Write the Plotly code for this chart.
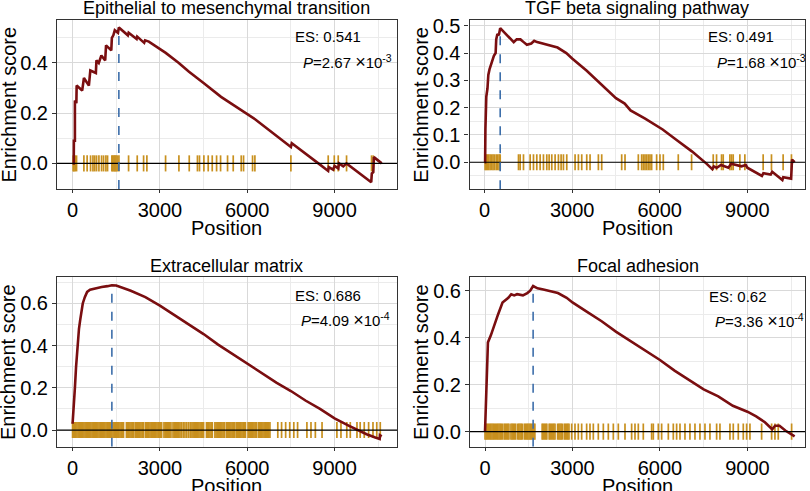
import plotly.graph_objects as go

# ---------------- data ----------------
titles = ["Epithelial to mesenchymal transition", "TGF beta signaling pathway",
          "Extracellular matrix", "Focal adhesion"]
es_labels = ["0.541", "0.491", "0.686", "0.62"]
p_mantissa = ["2.67", "1.68", "4.09", "3.36"]
p_exponent = ["-3", "-3", "-4", "-4"]

# running enrichment score curves (position, score)
emt_pos = [0, 40, 45, 80, 80, 130, 140, 330, 390, 560, 610, 800, 820, 900, 990, 1120, 1150, 1330,
           1350, 1400, 1450, 1560, 1590, 1900, 1925, 2200, 2220, 2460, 2490, 2620, 3200, 3650, 4000,
           4300, 4500, 5100, 5500, 5880, 6280, 7500, 7530, 8500, 8780, 8800, 8950, 9000, 9130, 9150,
           9300, 9410, 10260, 10280, 10330, 10350, 10620]
emt_es = [0.0, 0.0, 0.09, 0.09, 0.25, 0.24, 0.31, 0.29, 0.34, 0.31, 0.37, 0.36, 0.41, 0.40, 0.43, 0.41,
          0.47, 0.45, 0.50, 0.51, 0.53, 0.52, 0.541, 0.51, 0.52, 0.495, 0.505, 0.48, 0.49, 0.485, 0.44,
          0.40, 0.365, 0.34, 0.32, 0.265, 0.235, 0.205, 0.175, 0.065, 0.08, -0.005, -0.03, -0.015,
          -0.025, -0.01, -0.02, 0.0, -0.012, 0.0, -0.075, -0.04, -0.035, 0.025, 0.0]
emt_hits = [20, 50, 90, 137, 389, 500, 618, 700, 760, 824, 905, 996, 1065, 1145, 1202, 1351, 1380,
            1420, 1454, 1490, 1530, 1592, 1924, 2221, 2440, 2553, 3195, 3653, 4008, 4290, 4360, 4511,
            4660, 4798, 4947, 5084, 5324, 5519, 5794, 5874, 6183, 6263, 7500, 8782, 8990, 9126, 9412,
            10271, 10330]

tgf_pos = [0, 20, 30, 60, 100, 130, 170, 230, 270, 320, 380, 400, 440, 490, 536, 1000, 1100, 1230,
           1340, 1450, 1600, 1700, 1800, 2000, 2200, 2500, 2800, 3000, 3500, 4000, 4500, 4800, 5000,
           5500, 5900, 6100, 6600, 7100, 7600, 7800, 7850, 7950, 8100, 8350, 8450, 8600, 8800, 8950,
           9000, 9500, 9550, 9800, 9850, 10200, 10230, 10500, 10530, 10620]
tgf_es = [0.0, 0.0, 0.12, 0.24, 0.27, 0.32, 0.34, 0.36, 0.38, 0.39, 0.40, 0.45, 0.47, 0.465, 0.491,
          0.44, 0.45, 0.45, 0.44, 0.43, 0.435, 0.445, 0.44, 0.435, 0.43, 0.42, 0.40, 0.38, 0.335,
          0.285, 0.235, 0.215, 0.19, 0.16, 0.135, 0.12, 0.08, 0.04, -0.005, -0.025, -0.015, -0.02,
          -0.01, -0.02, -0.005, -0.01, -0.015, -0.01, -0.02, -0.05, -0.04, -0.045, -0.035, -0.065,
          -0.055, -0.06, 0.01, 0.0]
tgf_hits = [20, 60, 100, 140, 190, 240, 290, 340, 400, 450, 500, 536, 1163, 1220, 1334, 1562, 1676,
            1790, 1904, 2018, 2132, 2212, 2303, 2417, 2531, 2622, 2702, 2816, 3101, 3215, 3329, 3500,
            3614, 3899, 4013, 4697, 4811, 5267, 5381, 5438, 5495, 5552, 5609, 5666, 5723, 5894, 6008,
            6122, 6635, 7091, 7832, 7946, 8117, 8174, 8402, 8459, 8516, 8744, 8915, 9542, 9827,
            10226, 10511]

ecm_pos = [0, 40, 80, 120, 170, 220, 260, 300, 350, 420, 500, 600, 800, 1000, 1200, 1350, 1500,
           1700, 2000, 2500, 3000, 3500, 4000, 4500, 5000, 5500, 6000, 6500, 7000, 7500, 8000, 8500,
           9000, 9500, 9800, 10100, 10400, 10550, 10560, 10620]
ecm_es = [0.03, 0.10, 0.20, 0.30, 0.40, 0.48, 0.52, 0.56, 0.60, 0.63, 0.655, 0.665, 0.672, 0.678,
          0.682, 0.686, 0.685, 0.675, 0.66, 0.63, 0.59, 0.545, 0.50, 0.455, 0.405, 0.36, 0.315,
          0.27, 0.225, 0.185, 0.14, 0.10, 0.055, 0.02, 0.0, -0.02, -0.035, -0.042, -0.025, -0.03]
ecm_hits = [0, 30, 70, 110, 150, 190, 230, 270, 310, 350, 390, 430, 470, 510, 550, 590, 630, 670,
            710, 750, 790, 830, 870, 910, 950, 990, 1030, 1070, 1110, 1150, 1190, 1230, 1270, 1310,
            1350, 1390, 1430, 1470, 1510, 1550, 1590, 1630, 1670, 1710, 1750, 1850, 1890, 1930, 1970,
            2010, 2050, 2090, 2150, 2190, 2230, 2270, 2310, 2350, 2390, 2430, 2500, 2540, 2580, 2620,
            2660, 2700, 2740, 2780, 2820, 2860, 2900, 2940, 2980, 3020, 3060, 3140, 3180, 3220, 3260,
            3300, 3340, 3380, 3450, 3490, 3530, 3570, 3610, 3650, 3690, 3740, 3800, 3860, 3920, 3980,
            4040, 4100, 4140, 4180, 4220, 4260, 4300, 4340, 4380, 4420, 4460, 4500, 4600, 4640, 4680,
            4720, 4760, 4800, 4890, 4930, 4970, 5010, 5050, 5090, 5130, 5170, 5210, 5280, 5320, 5360,
            5400, 5440, 5480, 5520, 5560, 5620, 5660, 5700, 5740, 5780, 5820, 5860, 5900, 5940, 6030,
            6070, 6110, 6150, 6190, 6230, 6270, 6310, 6380, 6420, 6460, 6500, 6540, 6580, 6620, 6660,
            6700, 6740, 6780, 7050, 7180, 7320, 7460, 7600, 7730, 8050, 8190, 8340, 8570, 9080, 9220,
            9420, 9540, 9770, 9880, 10020, 10170, 10320, 10450, 10570]

fa_pos = [0, 30, 60, 100, 200, 300, 450, 600, 700, 800, 900, 1000, 1100, 1300, 1450, 1550, 1650,
          1800, 2000, 2300, 2500, 2800, 3000, 3500, 4000, 4500, 5000, 5500, 6000, 6500, 7000, 7500,
          8000, 8500, 9000, 9300, 9600, 9850, 9950, 10100, 10300, 10550, 10620]
fa_es = [0.0, 0.10, 0.25, 0.38, 0.41, 0.45, 0.50, 0.55, 0.56, 0.57, 0.585, 0.58, 0.585, 0.58, 0.59,
         0.60, 0.62, 0.61, 0.605, 0.595, 0.59, 0.57, 0.55, 0.51, 0.47, 0.425, 0.385, 0.345, 0.305,
         0.26, 0.22, 0.18, 0.15, 0.11, 0.085, 0.065, 0.04, 0.01, 0.025, 0.025, 0.005, -0.015, -0.02]
fa_hits = [0, 40, 80, 120, 160, 200, 240, 280, 320, 360, 400, 440, 480, 520, 560, 600, 660, 700, 740,
           780, 820, 890, 930, 970, 1010, 1050, 1120, 1160, 1200, 1240, 1280, 1350, 1390, 1430, 1470,
           1510, 1550, 1590, 1630, 1670, 1710, 1960, 2000, 2040, 2080, 2120, 2200, 2240, 2280, 2320,
           2360, 2400, 2490, 2530, 2570, 2610, 2650, 2720, 2760, 2800, 2840, 2880, 2972, 3086, 3200,
           3315, 3486, 3600, 3715, 3886, 4058, 4229, 4401, 4572, 4801, 5029, 5144, 5258, 5429, 5715,
           5772, 5944, 6058, 6287, 6458, 6572, 6687, 6858, 7029, 7201, 7372, 7544, 7715, 7944, 8058,
           8401, 8515, 8687, 8858, 8973, 9087, 9487, 9830, 9944, 10058, 10516]

x_ticks = [0, 3000, 6000, 9000]

# ---------------- layout / style ----------------
W, H = 810, 491
CURVE = "#7A0E10"
RUG = "#C8901E"
DASH = "#3C6EAA"
FONT = "Liberation Sans, Arial, sans-serif"

def px(x):
    return x / W

def py(y):
    return 1 - y / H

panels = [
    dict(pos=emt_pos, es=emt_es, hits=emt_hits, box=(57, 397, 20, 189), xr=[-535, 11145],
         yr=[-0.102, 0.571], dt=0.2, mdt=0.1, es_xy=(293, 37), p_xy=(301, 62), ylab_x=8, ty=8),
    dict(pos=tgf_pos, es=tgf_es, hits=tgf_hits, box=(469.5, 805, 20, 189.3), xr=[-515, 10975],
         yr=[-0.099, 0.521], dt=0.1, mdt=0.05, es_xy=(706, 37), p_xy=(715, 62), ylab_x=421, ty=8),
    dict(pos=ecm_pos, es=ecm_es, hits=ecm_hits, box=(57, 397, 277.3, 446.7), xr=[-535, 11145],
         yr=[-0.079, 0.724], dt=0.2, mdt=0.1, es_xy=(293, 295), p_xy=(299, 320), ylab_x=8, ty=266),
    dict(pos=fa_pos, es=fa_es, hits=fa_hits, box=(470, 805, 277.3, 446.7), xr=[-515, 10975],
         yr=[-0.064, 0.657], dt=0.2, mdt=0.1, es_xy=(707, 296), p_xy=(713, 321), ylab_x=421, ty=266),
]

fig = go.Figure()
layout = dict(width=W, height=H, margin=dict(l=0, r=0, t=0, b=0, autoexpand=False),
              paper_bgcolor="white", plot_bgcolor="white", showlegend=False,
              font=dict(family=FONT, color="black"))
annotations = []
shapes = []

for i, p in enumerate(panels):
    n = "" if i == 0 else str(i + 1)
    xa, ya = "x" + n, "y" + n
    x0, x1, y0, y1 = p["box"]
    axis_common = dict(showline=True, mirror=True, linecolor="#333333", linewidth=1.1,
                       ticks="outside", tickcolor="#333333", tickwidth=1,
                       showgrid=True, gridcolor="#D9D9D9", gridwidth=1, zeroline=False,
                       automargin=False,
                       tickfont=dict(size=20, color="black", family=FONT))
    layout["xaxis" + n] = dict(domain=[px(x0), px(x1)], range=p["xr"], anchor=ya,
                               tickvals=x_ticks, ticklen=3,
                               minor=dict(dtick=1500, tick0=0, showgrid=True, gridcolor="#EBEBEB",
                                          gridwidth=0.7, ticks=""),
                               **axis_common)
    layout["yaxis" + n] = dict(domain=[py(y1), py(y0)], range=p["yr"], anchor=xa,
                               dtick=p["dt"], tick0=0, tickformat=".1f", ticklen=4,
                               minor=dict(dtick=p["mdt"], tick0=0, showgrid=True, gridcolor="#EBEBEB",
                                          gridwidth=0.7, ticks=""),
                               **axis_common)

    # rug of hit positions
    fig.add_trace(go.Scatter(x=p["hits"], y=[0] * len(p["hits"]), mode="markers",
                             marker=dict(symbol="line-ns", size=11.5,
                                         line=dict(color=RUG, width=1.7)),
                             xaxis=xa, yaxis=ya, hoverinfo="skip", cliponaxis=True))
    # running enrichment curve
    fig.add_trace(go.Scatter(x=p["pos"], y=p["es"], mode="lines",
                             line=dict(color=CURVE, width=2.6), xaxis=xa, yaxis=ya))

    # zero line
    shapes.append(dict(type="line", xref=xa + " domain", yref=ya, x0=0, x1=1, y0=0, y1=0,
                       line=dict(color="black", width=1.2), layer="above"))
    # dashed line at peak
    k = max(range(len(p["es"])), key=lambda j: p["es"][j])
    shapes.append(dict(type="line", xref=xa, yref=ya, x0=p["pos"][k], x1=p["pos"][k],
                       y0=p["yr"][0], y1=p["es"][k], line=dict(color=DASH, width=1.6, dash="dash"),
                       layer="above"))

    # titles and labels
    annotations.append(dict(text=titles[i], xref="paper", yref="paper", x=px((x0 + x1) / 2),
                            y=py(p["ty"]), xanchor="center", yanchor="middle", showarrow=False,
                            font=dict(size=18, family=FONT, color="black")))
    annotations.append(dict(text="Position", xref="paper", yref="paper", x=px((x0 + x1) / 2),
                            y=py(y1 + 39), xanchor="center", yanchor="middle", showarrow=False,
                            font=dict(size=20, family=FONT, color="black")))
    annotations.append(dict(text="Enrichment score", xref="paper", yref="paper",
                            x=px(p["ylab_x"]), y=py((y0 + y1) / 2), xanchor="center",
                            yanchor="middle", textangle=-90, showarrow=False,
                            font=dict(size=20, family=FONT, color="black")))
    annotations.append(dict(text="ES: " + es_labels[i], xref="paper", yref="paper",
                            x=px(p["es_xy"][0]), y=py(p["es_xy"][1]), xanchor="left",
                            yanchor="middle", showarrow=False,
                            font=dict(size=15, family=FONT, color="black")))
    annotations.append(dict(text="<i>P</i>=" + p_mantissa[i]
                            + " <span style='font-size:18px'>×</span>10<sup>" + p_exponent[i] + "</sup>",
                            xref="paper", yref="paper",
                            x=px(p["p_xy"][0]), y=py(p["p_xy"][1]), xanchor="left",
                            yanchor="middle", showarrow=False,
                            font=dict(size=15, family=FONT, color="black")))

layout["annotations"] = annotations
layout["shapes"] = shapes
fig.update_layout(**layout)
fig.write_html("out.html", config={"displayModeBar": False},
               post_script="document.body.style.margin='0';document.body.style.overflow='hidden';")
